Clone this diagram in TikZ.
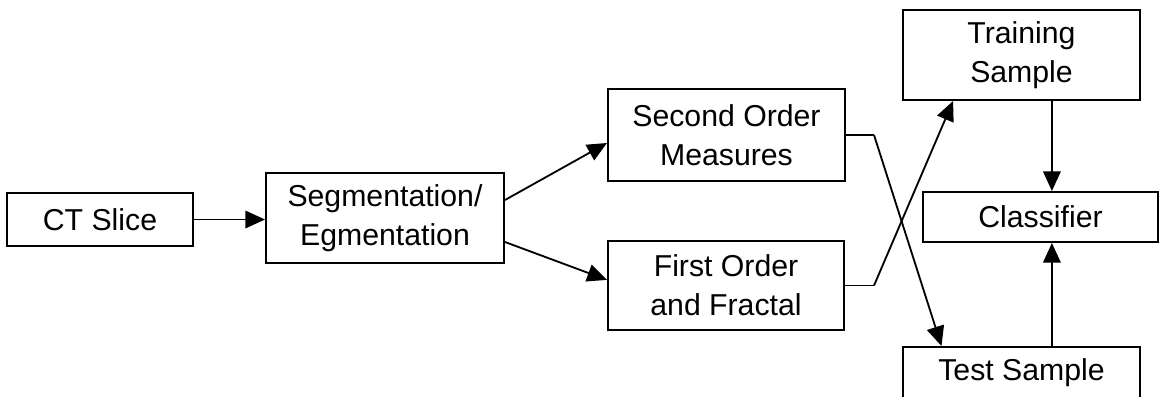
\documentclass[tikz,border=0pt]{standalone}
\usepackage{fontspec}
\setmainfont{Liberation Sans}
\usepackage{tikz}
\usetikzlibrary{arrows.meta,positioning,calc}

\tikzset{
  stage/.style={draw, line width=1.4pt, align=center, inner sep=0pt,
                font=\fontsize{21.5}{27.5}\selectfont},
  flow/.style={line width=1.3pt, -{Triangle[length=14pt,width=12.5pt]}},
  link/.style={line width=1.3pt}
}

\begin{document}
\begin{tikzpicture}[x=0.025cm,y=-0.025cm]
  \useasboundingbox (0,0) rectangle (1160,396);

  % pipeline boxes
  \node[stage, minimum width=4.65cm,  minimum height=1.325cm] (ct)     at (100,219.5)  {CT Slice};
  \node[stage, minimum width=5.95cm,  minimum height=2.25cm]  (seg)    at (385,218)    {Segmentation/\\Egmentation};
  \node[stage, minimum width=5.925cm, minimum height=2.3cm]   (second) at (726.5,135)  {Second Order\\Measures};
  \node[stage, minimum width=5.9cm,   minimum height=2.225cm] (first)  at (726,285.5)  {First Order\\and Fractal};
  \node[stage, minimum width=5.925cm, minimum height=2.25cm]  (train)  at (1021.5,55)  {Training\\Sample};
  \node[stage, minimum width=5.875cm, minimum height=1.25cm]  (clf)    at (1040.5,217) {Classifier};
  \node[stage, minimum width=5.925cm, minimum height=1.275cm] (test)   at (1021.5,372.5) {Test Sample};

  % connectors
  \draw[flow] (ct.east) -- (ct.east -| seg.west);
  \draw[flow] ([yshift=0.45cm]seg.east) -- ([yshift=-0.2cm]second.west);
  \draw[flow] ([yshift=-0.6cm]seg.east) -- ([yshift=0.14cm]first.west);
  \draw[link] (second.east) -- ++(28,0) coordinate (kinkA);
  \draw[flow] (kinkA) -- ([xshift=-2cm]test.north);
  \draw[link] (first.east) -- ++(29,0) coordinate (kinkB);
  \draw[flow] (kinkB) -- ([xshift=-1.71cm]train.south);
  \draw[flow] ([xshift=0.76cm]train.south) -- ([xshift=0.76cm]train.south |- clf.north);
  \draw[flow] ([xshift=0.76cm]test.north) -- ([xshift=0.76cm]test.north |- clf.south);
\end{tikzpicture}
\end{document}
